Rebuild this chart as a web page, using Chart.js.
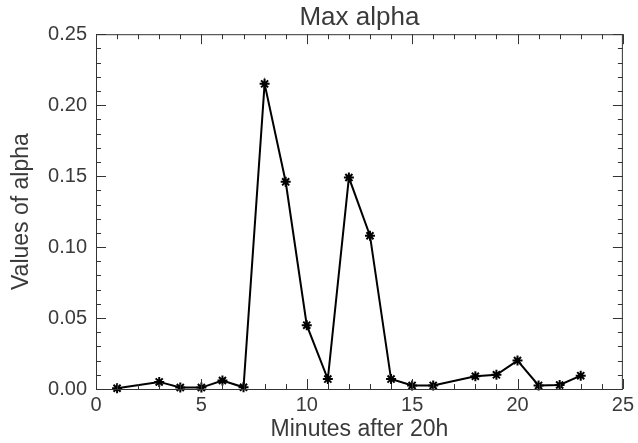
<!DOCTYPE html>
<html>
<head>
<meta charset="utf-8">
<script src="https://cdn.jsdelivr.net/npm/chart.js@4/dist/chart.umd.min.js"></script>
<style>
  html, body { margin: 0; padding: 0; background: #fff; }
  #wrap { width: 638px; height: 443px; }
</style>
</head>
<body>
<div id="wrap"><canvas id="graphic"></canvas></div>
<script>
// minutes after 20h and the max alpha read at each of them
var minutes = [1, 3, 4, 5, 6, 7, 8, 9, 10, 11, 12, 13, 14, 15, 16, 18, 19, 20, 21, 22, 23];
var alpha = [0.0005, 0.005, 0.001, 0.001, 0.006, 0.0012, 0.215, 0.146, 0.045, 0.007, 0.149, 0.108,
             0.007, 0.0025, 0.0025, 0.009, 0.010, 0.020, 0.0025, 0.0028, 0.0094];

var xTicks = [0, 5, 10, 15, 20, 25];
var yTicks = [0.00, 0.05, 0.10, 0.15, 0.20, 0.25];
var xMinorStep = 1;
var yMinorStep = 0.01;

var textColor = '#3a3a3a';
var fontName = '"Liberation Sans", Arial, sans-serif';

var puntos = minutes.map(function (m, i) { return { x: m, y: alpha[i] }; });

// IDL style box with inward ticks on all four sides
var boxTicks = {
  id: 'boxTicks',
  afterDatasetsDraw: function (chart) {
    var c = chart.ctx, a = chart.chartArea;
    var xs = chart.scales.x, ys = chart.scales.y;
    c.save();
    c.strokeStyle = '#333';
    c.lineWidth = 1;
    c.strokeRect(a.left + 0.5, a.top + 0.5, a.right - a.left - 1, a.bottom - a.top);
    c.beginPath();
    var n, v, p, len;
    for (n = 0; n <= Math.round((xTicks[xTicks.length - 1] - xTicks[0]) / xMinorStep); n++) {
      v = xTicks[0] + n * xMinorStep;
      p = Math.round(xs.getPixelForValue(v)) + 0.5;
      len = xTicks.indexOf(v) >= 0 ? 10 : 5;
      c.moveTo(p, a.bottom); c.lineTo(p, a.bottom - len);
      c.moveTo(p, a.top); c.lineTo(p, a.top + len);
    }
    for (n = 0; n <= Math.round((yTicks[yTicks.length - 1] - yTicks[0]) / yMinorStep); n++) {
      v = yTicks[0] + n * yMinorStep;
      p = Math.round(ys.getPixelForValue(v)) + 0.5;
      len = (n % 5 === 0) ? 10 : 5;
      c.moveTo(a.left, p); c.lineTo(a.left + len, p);
      c.moveTo(a.right, p); c.lineTo(a.right - len, p);
    }
    c.stroke();
    c.restore();
  }
};

var ctx = document.getElementById('graphic').getContext('2d');

var miGrafico = new Chart(ctx, {
  type: 'scatter',
  data: {
    datasets: [{
      label: 'Max alpha',
      data: puntos,
      showLine: true,
      borderColor: '#000',
      backgroundColor: '#000',
      borderWidth: 2,
      pointStyle: 'star',
      pointRadius: 5,
      pointBorderWidth: 2,
      clip: false
    }]
  },
  options: {
    responsive: true,
    maintainAspectRatio: false,
    animation: false,
    layout: { padding: { left: 0, right: 12, top: 0, bottom: 0 } },
    plugins: {
      legend: { display: false },
      tooltip: { enabled: false },
      title: {
        display: true,
        fullSize: false,
        text: 'Max alpha',
        color: textColor,
        font: { family: fontName, size: 26, weight: 'normal' },
        padding: { top: 2, bottom: 1 }
      }
    },
    scales: {
      x: {
        type: 'linear',
        min: xTicks[0],
        max: xTicks[xTicks.length - 1],
        afterFit: function (s) { s.height = 54; },
        afterBuildTicks: function (s) { s.ticks = xTicks.map(function (v) { return { value: v }; }); },
        grid: { display: false, drawTicks: false },
        border: { display: false },
        ticks: {
          color: textColor,
          padding: 4,
          maxRotation: 0,
          font: { family: fontName, size: 20 },
          callback: function (v) { return String(v); }
        },
        title: {
          display: true,
          text: 'Minutes after 20h',
          color: textColor,
          font: { family: fontName, size: 23 },
          padding: { top: 0, bottom: 0 }
        }
      },
      y: {
        type: 'linear',
        min: yTicks[0],
        max: yTicks[yTicks.length - 1],
        afterFit: function (s) { s.width = 96; },
        afterBuildTicks: function (s) { s.ticks = yTicks.map(function (v) { return { value: v }; }); },
        grid: { display: false, drawTicks: false },
        border: { display: false },
        ticks: {
          color: textColor,
          padding: 9,
          font: { family: fontName, size: 20 },
          callback: function (v) { return Number(v).toFixed(2); }
        },
        title: {
          display: true,
          text: 'Values of alpha',
          color: textColor,
          font: { family: fontName, size: 23 },
          padding: { top: 8, bottom: 0 }
        }
      }
    }
  },
  plugins: [boxTicks]
});
</script>
</body>
</html>
